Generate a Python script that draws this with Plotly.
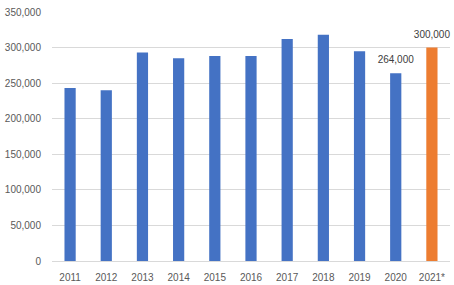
import plotly.graph_objects as go

years = ["2011", "2012", "2013", "2014", "2015", "2016", "2017", "2018", "2019", "2020", "2021*"]
values = [243000, 240000, 293000, 285000, 288000, 288000, 312000, 318000, 295000, 264000, 300000]
labels = ["", "", "", "", "", "", "", "", "", "264,000", "300,000"]
colors = ["#4472C4"] * 10 + ["#ED7D31"]
y_ticks = [0, 50000, 100000, 150000, 200000, 250000, 300000, 350000]

fig = go.Figure()
fig.add_trace(go.Bar(
    x=years, y=values, marker_color=colors, marker_line_width=0,
    width=0.31, hoverinfo="skip",
))
fig.add_trace(go.Scatter(
    x=years, y=values, mode="markers+text", text=labels, textposition="top center",
    marker=dict(size=10, color="rgba(0,0,0,0)"),
    textfont=dict(family="Liberation Sans", size=10, color="#404040"),
    cliponaxis=False, hoverinfo="skip",
))
fig.update_layout(
    width=454, height=285,
    margin=dict(l=52, r=4, t=12, b=24, autoexpand=False),
    paper_bgcolor="white", plot_bgcolor="white",
    showlegend=False,
    font=dict(family="Liberation Sans", size=10, color="#595959"),
    xaxis=dict(type="category", categoryorder="array", categoryarray=years,
               range=[-0.5, len(years) - 0.5], automargin=False,
               showgrid=False, showline=False, ticks="", ticklabelstandoff=9,
               tickfont=dict(size=10, color="#595959")),
    yaxis=dict(range=[0, 350000], tickvals=y_ticks, tickformat=",d", automargin=False,
               showgrid=True, gridcolor="#D9D9D9", gridwidth=1,
               zeroline=True, zerolinecolor="#D9D9D9", zerolinewidth=1,
               ticks="", ticklabelstandoff=10, tickfont=dict(size=10, color="#595959")),
)
fig.write_html("out.html")
